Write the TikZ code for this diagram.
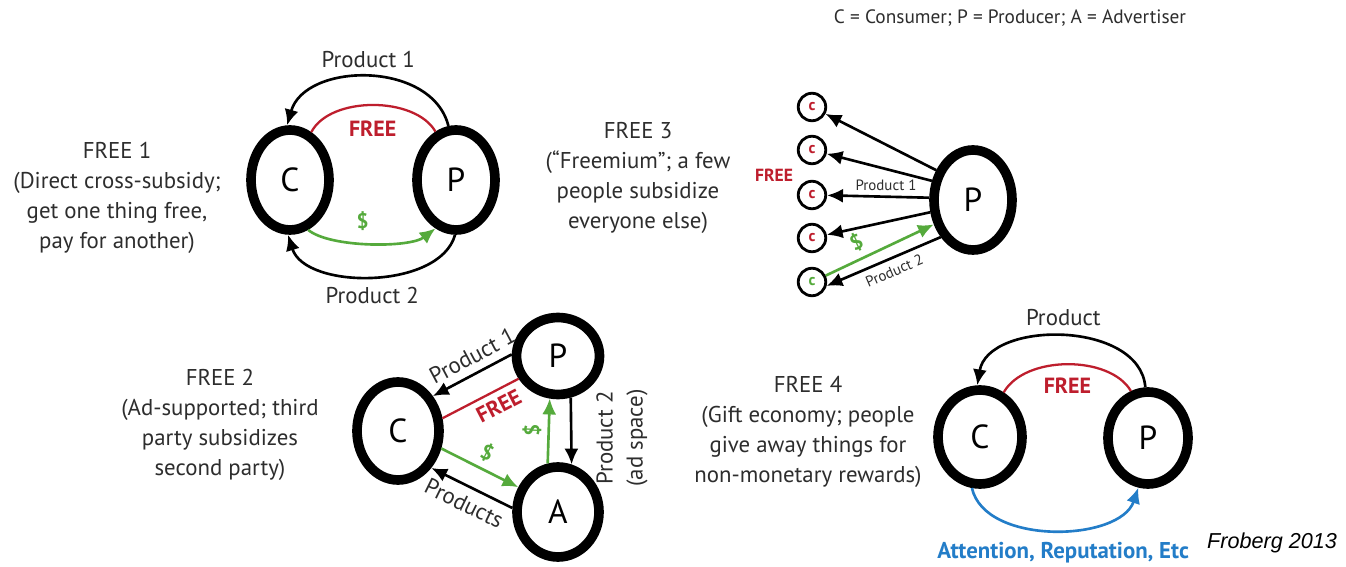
\documentclass[tikz,border=0pt]{standalone}
\usepackage{fontspec}
\setmainfont{PT Sans}
\newfontfamily\creditfont{Liberation Sans}
\usetikzlibrary{arrows.meta,shapes.geometric}
\definecolor{freered}{RGB}{190,30,45}
\definecolor{paygreen}{RGB}{85,170,60}
\definecolor{attnblue}{RGB}{35,125,200}
\definecolor{textgray}{RGB}{45,45,45}
\tikzset{
  bignode/.style={draw,ellipse,line width=5.5pt,minimum width=1.56cm,minimum height=2cm,inner sep=0pt,font=\fontsize{19}{19}\selectfont},
  smallnode/.style={draw,circle,line width=1.6pt,minimum size=0.55cm,inner sep=0pt,font=\fontsize{9}{9}\selectfont\bfseries},
  flow/.style={-{Latex[length=9pt,width=8pt]},line width=1.5pt},
  freeline/.style={freered,line width=1.3pt},
  payflow/.style={flow,paygreen},
  lbl/.style={font=\fontsize{13}{13}\selectfont,text=textgray},
  smalllbl/.style={font=\fontsize{8.5}{8.5}\selectfont,text=textgray},
  freelbl/.style={font=\fontsize{12.5}{12.5}\selectfont\bfseries,text=freered},
  paylbl/.style={font=\fontsize{12}{12}\selectfont\bfseries,text=paygreen},
  desc/.style={align=center,font=\fontsize{13}{17}\selectfont,text=textgray}
}

\begin{document}
\begin{tikzpicture}[x=0.02cm,y=-0.02cm]
    \fill[white] (0,0) rectangle (1346,567);
    \useasboundingbox (0,0) rectangle (1346,567);

    \node[font=\fontsize{11}{11}\selectfont,text=textgray] (legend) at (1010,18) {C = Consumer; P = Producer; A = Advertiser};

    % FREE 1
    \node[desc] (desc1) at (117,198) {FREE 1\\(Direct cross-subsidy;\\get one thing free,\\pay for another)};
    \node[bignode] (C1) at (290,180) {C};
    \node[bignode] (P1) at (456,180) {P};
    \draw[flow] (P1.98) .. controls (432,60) and (305,62) .. node[pos=0.5,above=1pt,lbl] {Product 1} (C1.93);
    \draw[freeline] (C1.66) .. controls (330,96) and (415,96) .. node[pos=0.5,below=5pt,freelbl] {FREE} (P1.113);
    \draw[payflow] (C1.-70) .. controls (330,248) and (410,248) .. node[pos=0.45,above=3pt,paylbl] {\$} (P1.-113);
    \draw[flow] (P1.-91) .. controls (440,290) and (305,290) .. node[pos=0.5,below=2pt,lbl] {Product 2} (C1.-92);

    % FREE 3
    \node[desc] (desc3) at (638,178) {FREE 3\\(``Freemium''; a few\\people subsidize\\everyone else)};
    \node[bignode] (P3) at (973,200) {P};
    \foreach \idx/\yy in {1/107,2/150,3/195,4/238} {
      \node[smallnode,text=freered] (c\idx) at (812,\yy) {c};
    }
    \node[smallnode,text=paygreen] (c5) at (812,282) {c};
    \foreach \idx/\ang in {1/141,2/155,3/177,4/196} {
      \draw[flow] (P3.\ang) -- (c\idx);
    }
    \node[font=\fontsize{10}{10}\selectfont\bfseries,text=freered] (free3) at (774,175) {FREE};
    \node[smalllbl] (prod3) at (886,185) {Product 1};
    \draw[payflow] (c5.25) -- node[pos=0.35,above,sloped,paylbl] {\$} (P3.212);
    \draw[flow] (P3.229) -- node[pos=0.45,below,sloped,smalllbl] {Product 2} (c5.-15);

    % FREE 2
    \node[desc] (desc2) at (220,425) {FREE 2\\(Ad-supported; third\\party subsidizes\\second party)};
    \node[bignode,minimum width=1.64cm,minimum height=1.96cm] (C2) at (398,431) {C};
    \node[bignode,minimum width=1.66cm,minimum height=1.54cm] (P2) at (558,356) {P};
    \node[bignode,minimum width=1.64cm,minimum height=1.8cm] (A2) at (558,512) {A};
    \draw[flow] (P2.178) -- node[pos=0.4,above=1pt,sloped,lbl] {Product 1} (C2.45);
    \draw[freeline] (P2.210) -- node[pos=0.35,below,sloped,freelbl] {FREE} (C2.16);
    \draw[flow] (P2.-73) -- (A2.74);
    \node[lbl,align=center,rotate=90,font=\fontsize{13}{17}\selectfont] (ad2) at (622,438) {Product 2\\(ad space)};
    \draw[payflow] (A2.102) -- node[pos=0.5,above,sloped,paylbl] {\$} (P2.-101);
    \draw[payflow] (C2.-22) -- node[pos=0.5,above,sloped,paylbl] {\$} (A2.148);
    \draw[flow] (A2.175) -- node[pos=0.5,below=1pt,sloped,lbl] {Products} (C2.-48);

    % FREE 4
    \node[desc] (desc4) at (808,432) {FREE 4\\(Gift economy; people\\give away things for\\non-monetary rewards)};
    \node[bignode,minimum width=1.68cm,minimum height=1.88cm] (C4) at (980,437) {C};
    \node[bignode,minimum width=1.6cm,minimum height=1.84cm] (P4) at (1148,438) {P};
    \draw[flow] (P4.93) .. controls (1140,320) and (988,320) .. node[pos=0.5,above=2pt,lbl] {Product} (C4.93);
    \draw[freeline] (C4.62) .. controls (1025,355) and (1110,355) .. node[pos=0.5,below=4pt,freelbl] {FREE} (P4.110);
    \draw[flow,attnblue] (C4.-99) .. controls (985,546) and (1120,542) .. node[pos=0.5,below=3pt,xshift=0.2cm,font=\fontsize{13}{13}\selectfont\bfseries,text=attnblue] {Attention, Reputation, Etc} (P4.-101);
    \node[font=\creditfont\itshape\fontsize{12.3}{12.3}\selectfont] (credit) at (1272,543) {Froberg 2013};
\end{tikzpicture}
\end{document}
